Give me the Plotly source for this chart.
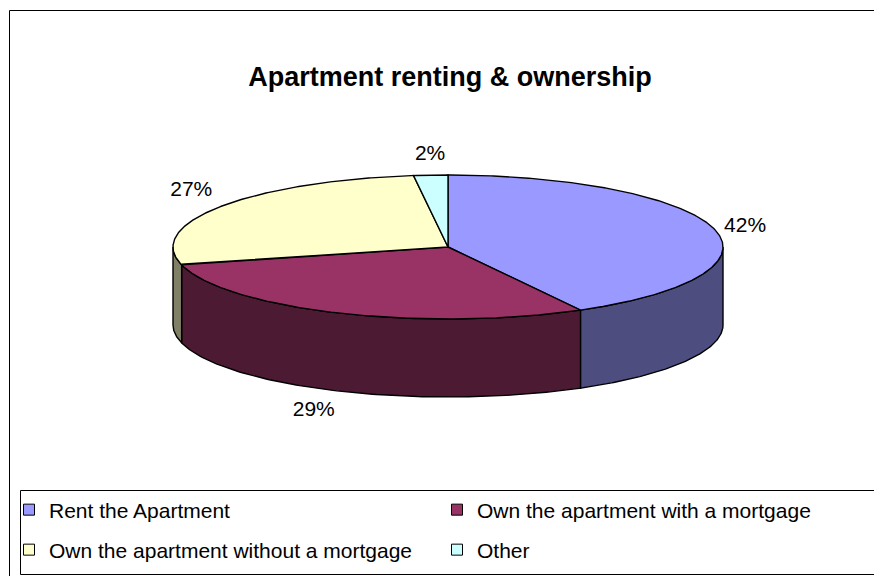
import numpy as np
import plotly.graph_objects as go

# ---------------- data ----------------
categories = ["Rent the Apartment",
              "Own the apartment with a mortgage",
              "Own the apartment without a mortgage",
              "Other"]
values = [42, 29, 27, 2]
top_colors = ["#9999FF", "#993366", "#FFFFCC", "#CCFFFF"]
side_colors = ["#4D4D80", "#4D1A33", "#808066", "#668080"]
title_text = "Apartment renting & ownership"

# ---------------- geometry / style ----------------
W, H = 874, 576
CX, CY, RX, RY, DEPTH = 448, 247, 275, 72, 78
LABEL_GAP = 10
FONT = "Arial, Liberation Sans, sans-serif"
LEGEND_SLOTS = [(9, 510), (437, 510), (9, 550), (437, 550)]  # px (x, y) per entry


def pt(theta_deg, dy=0.0, rx=RX, ry=RY):
    t = np.radians(theta_deg)
    return CX + rx * np.sin(t), CY - ry * np.cos(t) + dy


total = float(sum(values))
bounds = np.concatenate([[0.0], np.cumsum(values)]) / total * 360.0

fig = go.Figure()

# side walls (front half only, 90..270 degrees clockwise from top)
for i in range(len(values)):
    a, b = bounds[i], bounds[i + 1]
    lo, hi = max(a, 90.0), min(b, 270.0)
    if hi <= lo:
        continue
    th = np.linspace(lo, hi, 120)
    xt, yt = pt(th)
    xb, yb = pt(th[::-1], DEPTH)
    xs = np.concatenate([xt, xb, xt[:1]])
    ys = np.concatenate([yt, yb, yt[:1]])
    fig.add_trace(go.Scatter(x=xs, y=ys, mode="lines", fill="toself",
                             fillcolor=side_colors[i],
                             line=dict(color="black", width=1.4),
                             hoverinfo="skip", showlegend=False))

# top faces
for i in range(len(values)):
    a, b = bounds[i], bounds[i + 1]
    n = max(int((b - a) * 2), 8)
    th = np.linspace(a, b, n)
    xt, yt = pt(th)
    xs = np.concatenate([[CX], xt, [CX]])
    ys = np.concatenate([[CY], yt, [CY]])
    fig.add_trace(go.Scatter(x=xs, y=ys, mode="lines", fill="toself",
                             fillcolor=top_colors[i],
                             line=dict(color="black", width=1.4),
                             hoverinfo="skip", showlegend=False))

# percentage labels, placed outside the rim at each slice's mid-angle
mids = (bounds[:-1] + bounds[1:]) / 2.0
lx, ly, lpos = [], [], []
for m in mids:
    s, c = np.sin(np.radians(m)), np.cos(np.radians(m))
    x, y = pt(m, rx=RX + LABEL_GAP, ry=RY + LABEL_GAP)
    if c < 0:
        y += DEPTH
    h = "left" if s < -0.3 else ("right" if s > 0.3 else "center")
    v = "top" if c > 0.3 else ("bottom" if c < -0.3 else "middle")
    lx.append(x)
    ly.append(y)
    lpos.append(f"{v} {h}")
fig.add_trace(go.Scatter(x=lx, y=ly, mode="text",
                         text=[f"{v:.0f}%" for v in values],
                         textposition=lpos,
                         textfont=dict(family=FONT, size=21, color="black"),
                         hoverinfo="skip", showlegend=False))

# legend entries: one small legend per slot so the grid matches exactly
legend_layout = {}
for i, (cat, col) in enumerate(zip(categories, top_colors)):
    lname = "legend" if i == 0 else f"legend{i + 1}"
    fig.add_trace(go.Scatter(x=[None], y=[None], mode="markers", name=cat,
                             marker=dict(symbol="square", size=11, color=col,
                                         line=dict(color="black", width=1)),
                             legend=lname))
    px, py = LEGEND_SLOTS[i]
    legend_layout[lname] = dict(
        orientation="h", x=px / W, y=1 - py / H,
        xanchor="left", yanchor="middle",
        font=dict(family=FONT, size=21, color="black"),
        bgcolor="rgba(0,0,0,0)", borderwidth=0,
        itemclick=False, itemdoubleclick=False)


def hline(y, x0, x1=W + 20):
    return dict(type="line", xref="paper", yref="paper",
                x0=x0 / W, x1=x1 / W, y0=1 - y / H, y1=1 - y / H,
                line=dict(color="black", width=1), layer="below")


def vline(x, y0, y1):
    return dict(type="line", xref="paper", yref="paper",
                x0=x / W, x1=x / W, y0=1 - y0 / H, y1=1 - y1 / H,
                line=dict(color="black", width=1), layer="below")


fig.update_layout(
    width=W, height=H, autosize=False,
    margin=dict(l=0, r=0, t=0, b=0),
    paper_bgcolor="white", plot_bgcolor="white",
    xaxis=dict(range=[0, W], visible=False, fixedrange=True),
    yaxis=dict(range=[H, 0], visible=False, fixedrange=True),
    title=dict(text=f"<b>{title_text}</b>", x=450 / W, xanchor="center",
               y=1 - 77 / H, yanchor="middle",
               font=dict(family=FONT, size=27, color="black")),
    hovermode=False,
    shapes=[
        # chart frame (left and top edges inside the picture)
        hline(10.5, 9.5), vline(9.5, 10.5, H + 20),
        # legend frame
        hline(490.5, 20.5), hline(574.5, 20.5), vline(20.5, 490.5, 574.5),
    ],
    **legend_layout,
)

fig.write_html(
    "out.html", config={"displayModeBar": False},
    post_script=("document.documentElement.style.margin='0';"
                 "document.documentElement.style.overflow='hidden';"
                 "document.body.style.margin='0';"
                 "document.body.style.overflow='hidden';"))
